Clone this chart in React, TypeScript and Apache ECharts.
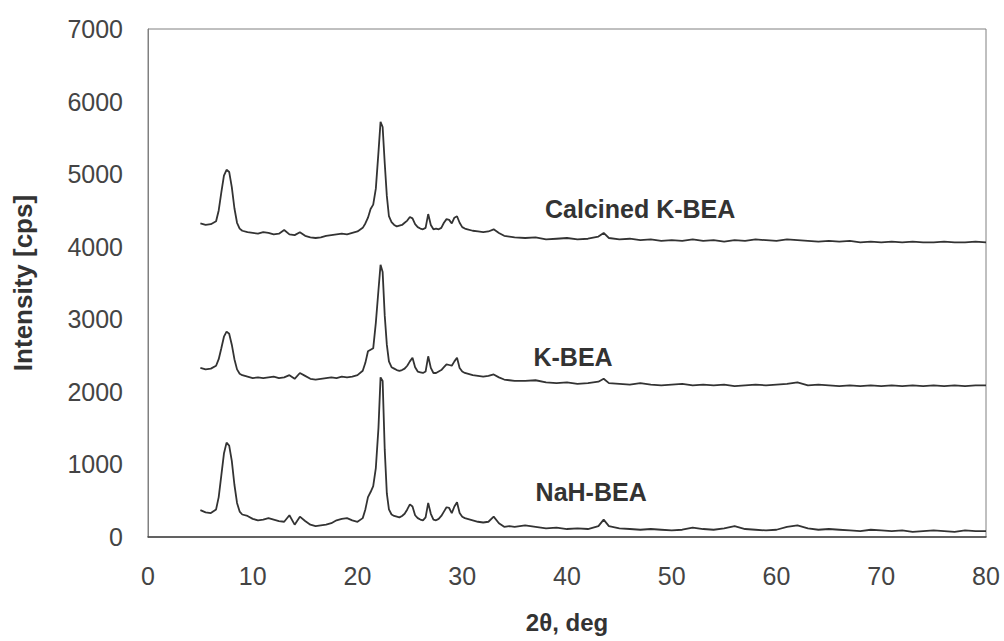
import React, { useEffect, useRef } from "react";
import * as echarts from "echarts";

// 2θ positions (deg) shared by the three patterns
const twoTheta: number[] = [
  5, 5.5, 6, 6.5,
  6.75, 7, 7.25, 7.5, 7.75, 8, 8.25, 8.5, 8.75, 9,
  9.5, 10, 10.5, 11, 11.5, 12, 12.5, 13, 13.5, 14, 14.5, 15, 15.5, 16, 16.5, 17, 17.5, 18, 18.5, 19, 19.5, 20,
  20.5, 20.75, 21, 21.25, 21.5, 21.75, 22, 22.2, 22.4, 22.6, 22.8, 23, 23.25, 23.5, 23.75, 24,
  24.25, 24.5, 24.75, 25, 25.25, 25.5, 25.75, 26, 26.25, 26.5, 26.75, 27, 27.25, 27.5, 27.75, 28, 28.25, 28.5, 28.75, 29, 29.25, 29.5, 29.75, 30, 30.25, 30.5,
  31, 31.5, 32, 32.5, 33, 33.5, 34, 34.5, 35,
  36, 37, 38, 39, 40, 41, 42, 43, 43.5, 44, 45, 46, 47, 48, 49, 50, 51, 52, 53, 54, 55, 56, 57, 58, 59, 60,
  61, 62, 63, 64, 65, 66, 67, 68, 69, 70, 71, 72, 73, 74, 75, 76, 77, 78, 79, 80,
];

const calcinedKBEA: number[] = [
  4320, 4300, 4310, 4350,
  4500, 4750, 4980, 5060, 5030, 4820, 4530, 4330, 4250, 4220,
  4200, 4190, 4180, 4200, 4190, 4170, 4180, 4230, 4170, 4160, 4200, 4150, 4130, 4120, 4130, 4150, 4160, 4170, 4180, 4170, 4190, 4210,
  4260, 4320, 4400, 4520, 4580, 4800, 5300, 5720, 5650, 5150, 4700, 4420, 4340, 4300, 4280, 4290,
  4300, 4330, 4360, 4410, 4390, 4310, 4270, 4250, 4240, 4260, 4450, 4300, 4240, 4250, 4240, 4260, 4330, 4380, 4370, 4320, 4400, 4420, 4330, 4270, 4250, 4240,
  4220, 4210, 4200, 4210, 4240, 4190, 4150, 4140, 4130,
  4120, 4130, 4100, 4110, 4120, 4100, 4110, 4140, 4190, 4120, 4100, 4110, 4090, 4100, 4080, 4090, 4080, 4100, 4080, 4090, 4070, 4090, 4080, 4100, 4090, 4080,
  4100, 4090, 4080, 4070, 4080, 4070, 4080, 4060, 4070, 4060, 4070, 4060, 4070, 4060, 4060, 4070, 4060, 4060, 4070, 4060,
];

const kBEA: number[] = [
  2330, 2310, 2320, 2360,
  2450, 2600, 2760, 2830, 2800, 2650, 2450, 2310, 2250, 2230,
  2210, 2190, 2200, 2190, 2200, 2210, 2190, 2200, 2230, 2180, 2260, 2220, 2180, 2170, 2180, 2190, 2200, 2190, 2210, 2200, 2210, 2230,
  2290, 2400, 2560, 2580, 2600, 2950, 3400, 3750, 3650, 3050, 2650, 2420, 2340, 2320, 2300, 2290,
  2300, 2320, 2360, 2420, 2470, 2340, 2280, 2270, 2260, 2280, 2490, 2330, 2260, 2260, 2280, 2300, 2340, 2380, 2370, 2360, 2420, 2470, 2330, 2280, 2260, 2250,
  2230, 2220, 2210, 2220, 2240, 2200, 2170, 2160, 2150,
  2150, 2160, 2130, 2120, 2130, 2110, 2120, 2140, 2180, 2120, 2110, 2100, 2120, 2100, 2090, 2100, 2110, 2090, 2100, 2090, 2100, 2080, 2090, 2100, 2090, 2100,
  2110, 2130, 2090, 2100, 2090, 2080, 2090, 2080, 2090, 2080, 2090, 2080, 2090, 2080, 2090, 2080, 2090, 2080, 2090, 2090,
];

const nahBEA: number[] = [
  370, 340, 330, 380,
  550, 850, 1150, 1300, 1260, 1050, 720, 470, 350, 310,
  290, 250, 230, 240, 260, 240, 220, 210, 300, 170, 280, 220, 170, 150, 160, 170, 190, 230, 250, 260, 230, 210,
  260, 380, 550, 620, 700, 950, 1500, 2200, 2150, 1200, 600, 380, 310, 290, 280, 270,
  290, 320, 380, 450, 420, 300, 260, 240, 230, 270, 470, 320, 240, 230, 250, 290, 350, 410, 400, 330, 420, 480, 330, 280, 260, 250,
  230, 210, 200, 210, 280, 190, 140, 150, 140,
  160, 140, 120, 130, 110, 120, 110, 150, 240, 150, 120, 110, 100, 110, 100, 90, 100, 130, 110, 100, 120, 150, 110, 100, 90, 100,
  140, 160, 120, 100, 110, 100, 90, 80, 100, 90, 80, 90, 70, 80, 90, 80, 70, 90, 80, 80,
];

const seriesNames = ["Calcined K-BEA", "K-BEA", "NaH-BEA"];
// label anchor (2θ, intensity) for each pattern's name
const labelAnchors: [number, number][] = [
  [37.9, 4520],
  [36.8, 2480],
  [37.0, 620],
];

const xTicks = { min: 0, max: 80, interval: 10 };
const yTicks = { min: 0, max: 7000, interval: 1000 };

export default function App() {
  const ref = useRef<HTMLDivElement>(null);
  useEffect(() => {
    if (!ref.current) return;
    const chart = echarts.init(ref.current, undefined, { renderer: "svg" });
    const font = "'Liberation Sans', Arial, sans-serif";
    const all = [calcinedKBEA, kBEA, nahBEA];
    chart.setOption({
      animation: false,
      backgroundColor: "#ffffff",
      textStyle: { fontFamily: font },
      grid: {
        left: 148,
        right: 18,
        top: 29,
        bottom: 104,
        show: true,
        borderColor: "#808080",
        borderWidth: 1,
      },
      xAxis: {
        type: "value",
        min: xTicks.min,
        max: xTicks.max,
        interval: xTicks.interval,
        name: "2θ, deg",
        nameLocation: "middle",
        nameGap: 73,
        nameTextStyle: { fontSize: 24, fontWeight: "bold", color: "#333", fontFamily: font },
        axisLine: { show: true, lineStyle: { color: "#444", width: 1.5 } },
        axisTick: { show: false },
        splitLine: { show: false },
        axisLabel: { fontSize: 25, color: "#444", margin: 26, fontFamily: font },
      },
      yAxis: {
        type: "value",
        min: yTicks.min,
        max: yTicks.max,
        interval: yTicks.interval,
        name: "Intensity [cps]",
        nameLocation: "middle",
        nameGap: 112,
        nameTextStyle: { fontSize: 26, fontWeight: "bold", color: "#333", fontFamily: font },
        axisLine: { show: true, lineStyle: { color: "#808080", width: 1 } },
        axisTick: { show: false },
        splitLine: { show: false },
        axisLabel: {
          fontSize: 25,
          color: "#444",
          margin: 25,
          fontFamily: font,
          formatter: (v: number) => String(v),
        },
      },
      series: all.map((vals, i) => ({
        name: seriesNames[i],
        type: "line",
        data: twoTheta.map((x, j) => [x, vals[j]]),
        showSymbol: false,
        symbol: "none",
        lineStyle: { color: "#333", width: 1.8 },
        z: 3,
        markPoint: {
          symbol: "circle",
          symbolSize: 0,
          data: [
            {
              coord: labelAnchors[i],
              label: {
                show: true,
                position: "right",
                distance: 0,
                formatter: seriesNames[i],
                fontSize: 25,
                fontWeight: "bold",
                color: "#333",
                fontFamily: font,
              },
            },
          ],
        },
      })),
    });
    return () => chart.dispose();
  }, []);
  return <div ref={ref} style={{ width: 1004, height: 641, position: "absolute", left: 0, top: 0 }} />;
}
